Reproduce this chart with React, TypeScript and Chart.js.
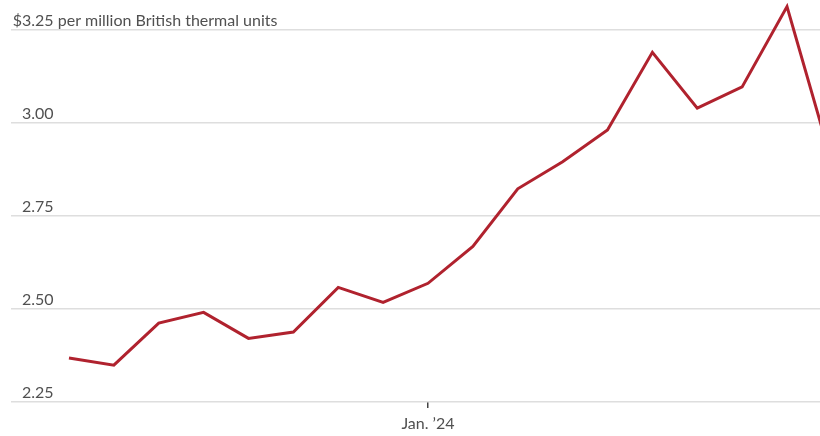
import React, { useEffect, useRef } from "react";
import { Chart, registerables } from "chart.js";

Chart.register(...registerables);

// Weekly price, $ per million British thermal units
const values: number[] = [
  2.368, 2.349, 2.462, 2.491, 2.421, 2.438, 2.558, 2.518, 2.569, 2.668,
  2.823, 2.896, 2.981, 3.19, 3.04, 3.097, 3.313, 2.894,
];
const xPositions: number[] = values.map((_, i) => i);
const xTickValues: number[] = [8];
const xTickLabels: string[] = ["Jan. \u201924"];
const yTickValues: number[] = [2.25, 2.5, 2.75, 3.0, 3.25];
const unitPrefix = "$";
const unitSuffix = " per million British thermal units";

const FONT = "Lato, 'Noto Sans', sans-serif";
const TEXT = "#505050";
const LINE = "#b0222e";

export default function App() {
  const ref = useRef<HTMLCanvasElement | null>(null);

  useEffect(() => {
    if (!ref.current) return;
    const unitPlugin = {
      id: "unitLabel",
      afterDraw(chart: any) {
        const scale = chart.scales.y;
        const items = scale.getLabelItems();
        const top = items.find((it: any) => it.label === yTickValues[yTickValues.length - 1].toFixed(2));
        if (!top) return;
        const ctx = chart.ctx;
        const [x, y] = top.options.translation;
        ctx.save();
        ctx.font = top.font.string;
        ctx.fillStyle = TEXT;
        ctx.textBaseline = top.options.textBaseline;
        const w = ctx.measureText(top.label).width;
        ctx.textAlign = "right";
        ctx.fillText(unitPrefix, x - w, y + (top.textOffset || 0));
        ctx.textAlign = "left";
        ctx.fillText(unitSuffix, x, y + (top.textOffset || 0));
        ctx.restore();
      },
    };

    const chart = new Chart(ref.current, {
      type: "line",
      data: {
        datasets: [
          {
            data: xPositions.map((x, i) => ({ x, y: values[i] })),
            borderColor: LINE,
            borderWidth: 3,
            pointRadius: 0,
            tension: 0,
            borderJoinStyle: "miter",
          },
        ],
      },
      options: {
        responsive: false,
        animation: false,
        layout: { padding: { left: 11, right: 0, top: 0, bottom: 0 } },
        plugins: { legend: { display: false }, tooltip: { enabled: false } },
        scales: {
          x: {
            type: "linear",
            min: -1.292,
            max: 16.735,
            border: { display: false },
            grid: {
              drawOnChartArea: false,
              drawTicks: true,
              tickLength: 6,
              color: "#444444",
              lineWidth: 1.5,
            },
            afterBuildTicks: (s: any) => {
              s.ticks = xTickValues.map((v) => ({ value: v }));
            },
            afterFit: (s: any) => {
              s.paddingLeft = 0;
              s.paddingRight = 0;
              s.height = 34;
            },
            ticks: {
              autoSkip: false,
              maxRotation: 0,
              padding: 6,
              color: TEXT,
              font: { family: FONT, size: 16 },
              callback: (v: any) => {
                const i = xTickValues.indexOf(Number(v));
                return i >= 0 ? xTickLabels[i] : "";
              },
            },
          },
          y: {
            type: "linear",
            min: 2.25,
            max: 3.3306,
            border: { display: false },
            grid: { drawTicks: false, color: "#dedede", lineWidth: 1.5 },
            afterBuildTicks: (s: any) => {
              s.ticks = yTickValues.map((v) => ({ value: v }));
            },
            afterFit: (s: any) => {
              s.paddingTop = 0;
              s.paddingBottom = 0;
              s.width = 0;
            },
            ticks: {
              mirror: true,
              crossAlign: "far",
              padding: 11,
              labelOffset: -9,
              color: TEXT,
              font: { family: FONT, size: 16 },
              callback: (v: any) => Number(v).toFixed(2),
            },
          },
        },
      },
      plugins: [unitPlugin],
    } as any);
    return () => chart.destroy();
  }, []);

  return (
    <div style={{ position: "absolute", left: 0, top: 0, width: 820, height: 436 }}>
      <canvas ref={ref} width={820} height={436} />
    </div>
  );
}
